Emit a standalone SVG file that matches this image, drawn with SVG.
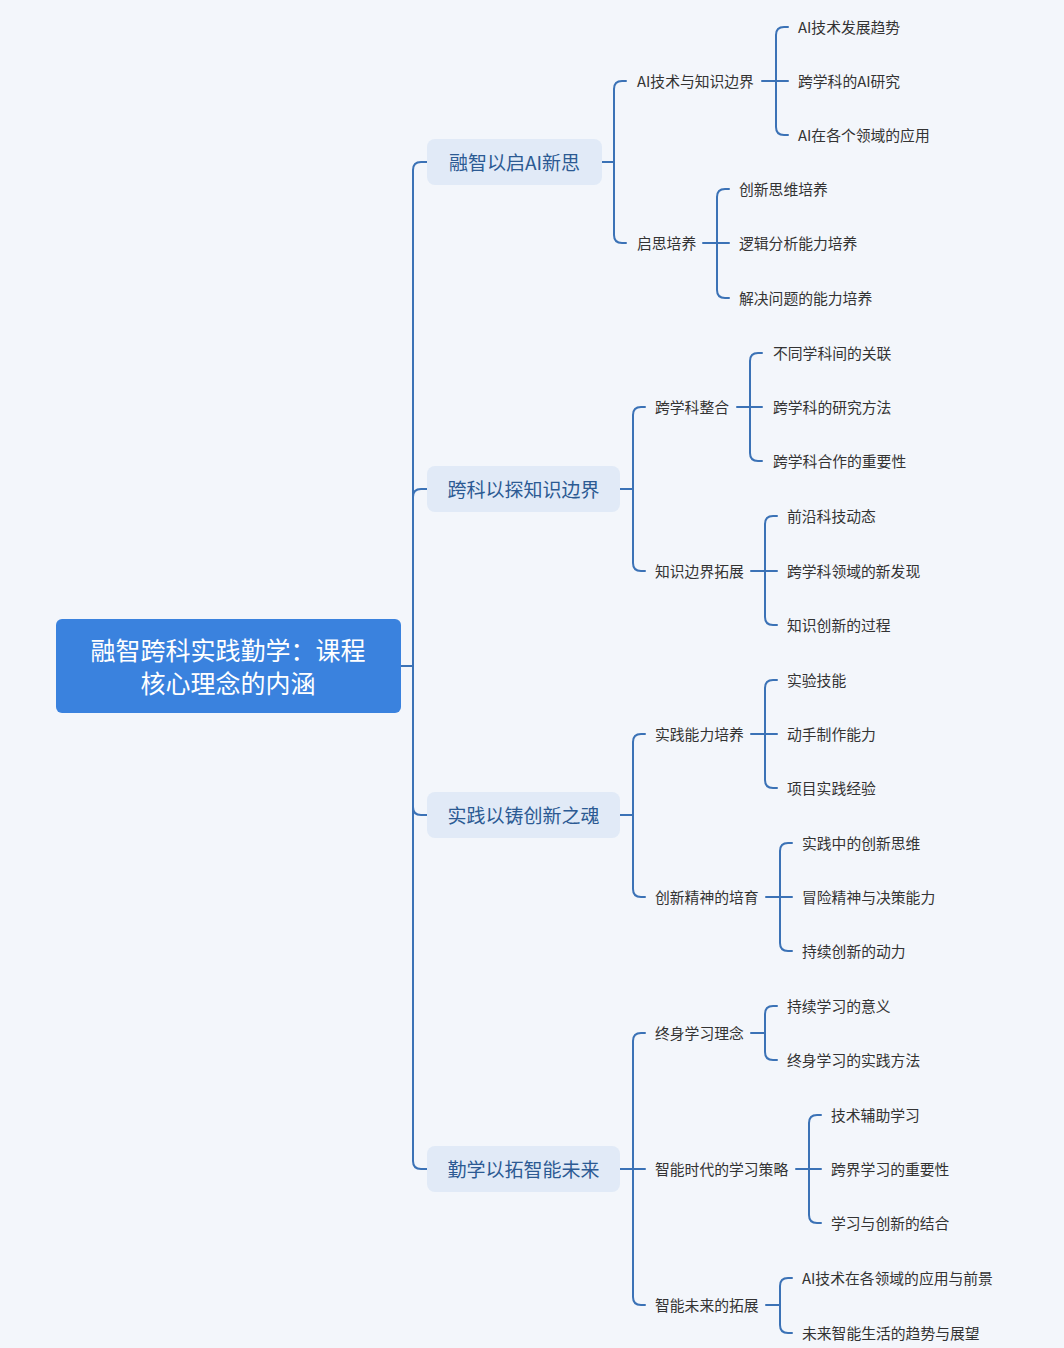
<svg xmlns="http://www.w3.org/2000/svg" width="1064" height="1348" viewBox="0 0 1064 1348">
<style>
.c{fill:none;stroke:#3b72b6;stroke-width:2;stroke-linecap:round}
.t{font-family:"Noto Sans CJK SC","Noto Sans",sans-serif}
.l1b{fill:#e1eaf7}
.l1{font-size:19px;fill:#2c5a93;text-anchor:middle;dominant-baseline:central}
.l2{font-size:14.8px;fill:#333333;dominant-baseline:central}
.rt{font-size:25px;fill:#ffffff;text-anchor:middle;dominant-baseline:central}
</style>
<rect x="0" y="0" width="1064" height="1348" fill="#f3f6fb"/>
<g id="connectors">
<path class="c" d="M401 666 H413"/>
<path class="c" d="M427 162 H421 Q413 162 413 170 V1161 Q413 1169 421 1169 H427"/>
<path class="c" d="M413 497 Q413 489 421 489 H427"/>
<path class="c" d="M413 807 Q413 815 421 815 H427"/>
<path class="c" d="M602 162 H614"/>
<path class="c" d="M626 81 H622 Q614 81 614 89 V235 Q614 243 622 243 H626"/>
<path class="c" d="M620 489 H633"/>
<path class="c" d="M645 407 H641 Q633 407 633 415 V563 Q633 571 641 571 H645"/>
<path class="c" d="M620 815 H633"/>
<path class="c" d="M645 734 H641 Q633 734 633 742 V889 Q633 897 641 897 H645"/>
<path class="c" d="M620 1169 H645"/>
<path class="c" d="M645 1033 H641 Q633 1033 633 1041 V1297 Q633 1305 641 1305 H645"/>
<path class="c" d="M762 81 H788"/>
<path class="c" d="M788 27 H784 Q776 27 776 35 V127 Q776 135 784 135 H788"/>
<path class="c" d="M703 243 H729"/>
<path class="c" d="M729 189 H725 Q717 189 717 197 V290 Q717 298 725 298 H729"/>
<path class="c" d="M737 407 H762"/>
<path class="c" d="M762 353 H758 Q750 353 750 361 V453 Q750 461 758 461 H762"/>
<path class="c" d="M751 571 H777"/>
<path class="c" d="M777 516 H773 Q765 516 765 524 V617 Q765 625 773 625 H777"/>
<path class="c" d="M751 734 H777"/>
<path class="c" d="M777 680 H773 Q765 680 765 688 V780 Q765 788 773 788 H777"/>
<path class="c" d="M766 897 H792"/>
<path class="c" d="M792 843 H788 Q780 843 780 851 V943 Q780 951 788 951 H792"/>
<path class="c" d="M751 1033 H765"/>
<path class="c" d="M777 1006 H773 Q765 1006 765 1014 V1052 Q765 1060 773 1060 H777"/>
<path class="c" d="M796 1169 H821"/>
<path class="c" d="M821 1115 H817 Q809 1115 809 1123 V1215 Q809 1223 817 1223 H821"/>
<path class="c" d="M766 1305 H780"/>
<path class="c" d="M792 1278 H788 Q780 1278 780 1286 V1325 Q780 1333 788 1333 H792"/>
</g>
<g id="root" class="t">
<rect x="56" y="619" width="345" height="94" rx="6" fill="#3a82de"/>
<text class="rt" x="228" y="649">融智跨科实践勤学：课程</text>
<text class="rt" x="228" y="682">核心理念的内涵</text>
</g>
<g id="n1" class="t"><rect class="l1b" x="427" y="139" width="175" height="46" rx="8"/><text class="l1" x="514.5" y="161">融智以启AI新思</text></g>
<g id="n2" class="t"><rect class="l1b" x="427" y="466" width="193" height="46" rx="8"/><text class="l1" x="523.5" y="488">跨科以探知识边界</text></g>
<g id="n3" class="t"><rect class="l1b" x="427" y="792" width="193" height="46" rx="8"/><text class="l1" x="523.5" y="814">实践以铸创新之魂</text></g>
<g id="n4" class="t"><rect class="l1b" x="427" y="1146" width="193" height="46" rx="8"/><text class="l1" x="523.5" y="1168">勤学以拓智能未来</text></g>
<g id="n1a" class="t"><text class="l2" x="637" y="80">AI技术与知识边界</text></g>
<g id="n1a1" class="t"><text class="l2" x="798" y="26">AI技术发展趋势</text></g>
<g id="n1a2" class="t"><text class="l2" x="798" y="80">跨学科的AI研究</text></g>
<g id="n1a3" class="t"><text class="l2" x="798" y="134">AI在各个领域的应用</text></g>
<g id="n1b" class="t"><text class="l2" x="637" y="242">启思培养</text></g>
<g id="n1b1" class="t"><text class="l2" x="739" y="188">创新思维培养</text></g>
<g id="n1b2" class="t"><text class="l2" x="739" y="242">逻辑分析能力培养</text></g>
<g id="n1b3" class="t"><text class="l2" x="739" y="297">解决问题的能力培养</text></g>
<g id="n2a" class="t"><text class="l2" x="655" y="406">跨学科整合</text></g>
<g id="n2a1" class="t"><text class="l2" x="773" y="352">不同学科间的关联</text></g>
<g id="n2a2" class="t"><text class="l2" x="773" y="406">跨学科的研究方法</text></g>
<g id="n2a3" class="t"><text class="l2" x="773" y="460">跨学科合作的重要性</text></g>
<g id="n2b" class="t"><text class="l2" x="655" y="570">知识边界拓展</text></g>
<g id="n2b1" class="t"><text class="l2" x="787" y="515">前沿科技动态</text></g>
<g id="n2b2" class="t"><text class="l2" x="787" y="570">跨学科领域的新发现</text></g>
<g id="n2b3" class="t"><text class="l2" x="787" y="624">知识创新的过程</text></g>
<g id="n3a" class="t"><text class="l2" x="655" y="733">实践能力培养</text></g>
<g id="n3a1" class="t"><text class="l2" x="787" y="679">实验技能</text></g>
<g id="n3a2" class="t"><text class="l2" x="787" y="733">动手制作能力</text></g>
<g id="n3a3" class="t"><text class="l2" x="787" y="787">项目实践经验</text></g>
<g id="n3b" class="t"><text class="l2" x="655" y="896">创新精神的培育</text></g>
<g id="n3b1" class="t"><text class="l2" x="802" y="842">实践中的创新思维</text></g>
<g id="n3b2" class="t"><text class="l2" x="802" y="896">冒险精神与决策能力</text></g>
<g id="n3b3" class="t"><text class="l2" x="802" y="950">持续创新的动力</text></g>
<g id="n4a" class="t"><text class="l2" x="655" y="1032">终身学习理念</text></g>
<g id="n4a1" class="t"><text class="l2" x="787" y="1005">持续学习的意义</text></g>
<g id="n4a2" class="t"><text class="l2" x="787" y="1059">终身学习的实践方法</text></g>
<g id="n4b" class="t"><text class="l2" x="655" y="1168">智能时代的学习策略</text></g>
<g id="n4b1" class="t"><text class="l2" x="831" y="1114">技术辅助学习</text></g>
<g id="n4b2" class="t"><text class="l2" x="831" y="1168">跨界学习的重要性</text></g>
<g id="n4b3" class="t"><text class="l2" x="831" y="1222">学习与创新的结合</text></g>
<g id="n4c" class="t"><text class="l2" x="655" y="1304">智能未来的拓展</text></g>
<g id="n4c1" class="t"><text class="l2" x="802" y="1277">AI技术在各领域的应用与前景</text></g>
<g id="n4c2" class="t"><text class="l2" x="802" y="1332">未来智能生活的趋势与展望</text></g>
</svg>
